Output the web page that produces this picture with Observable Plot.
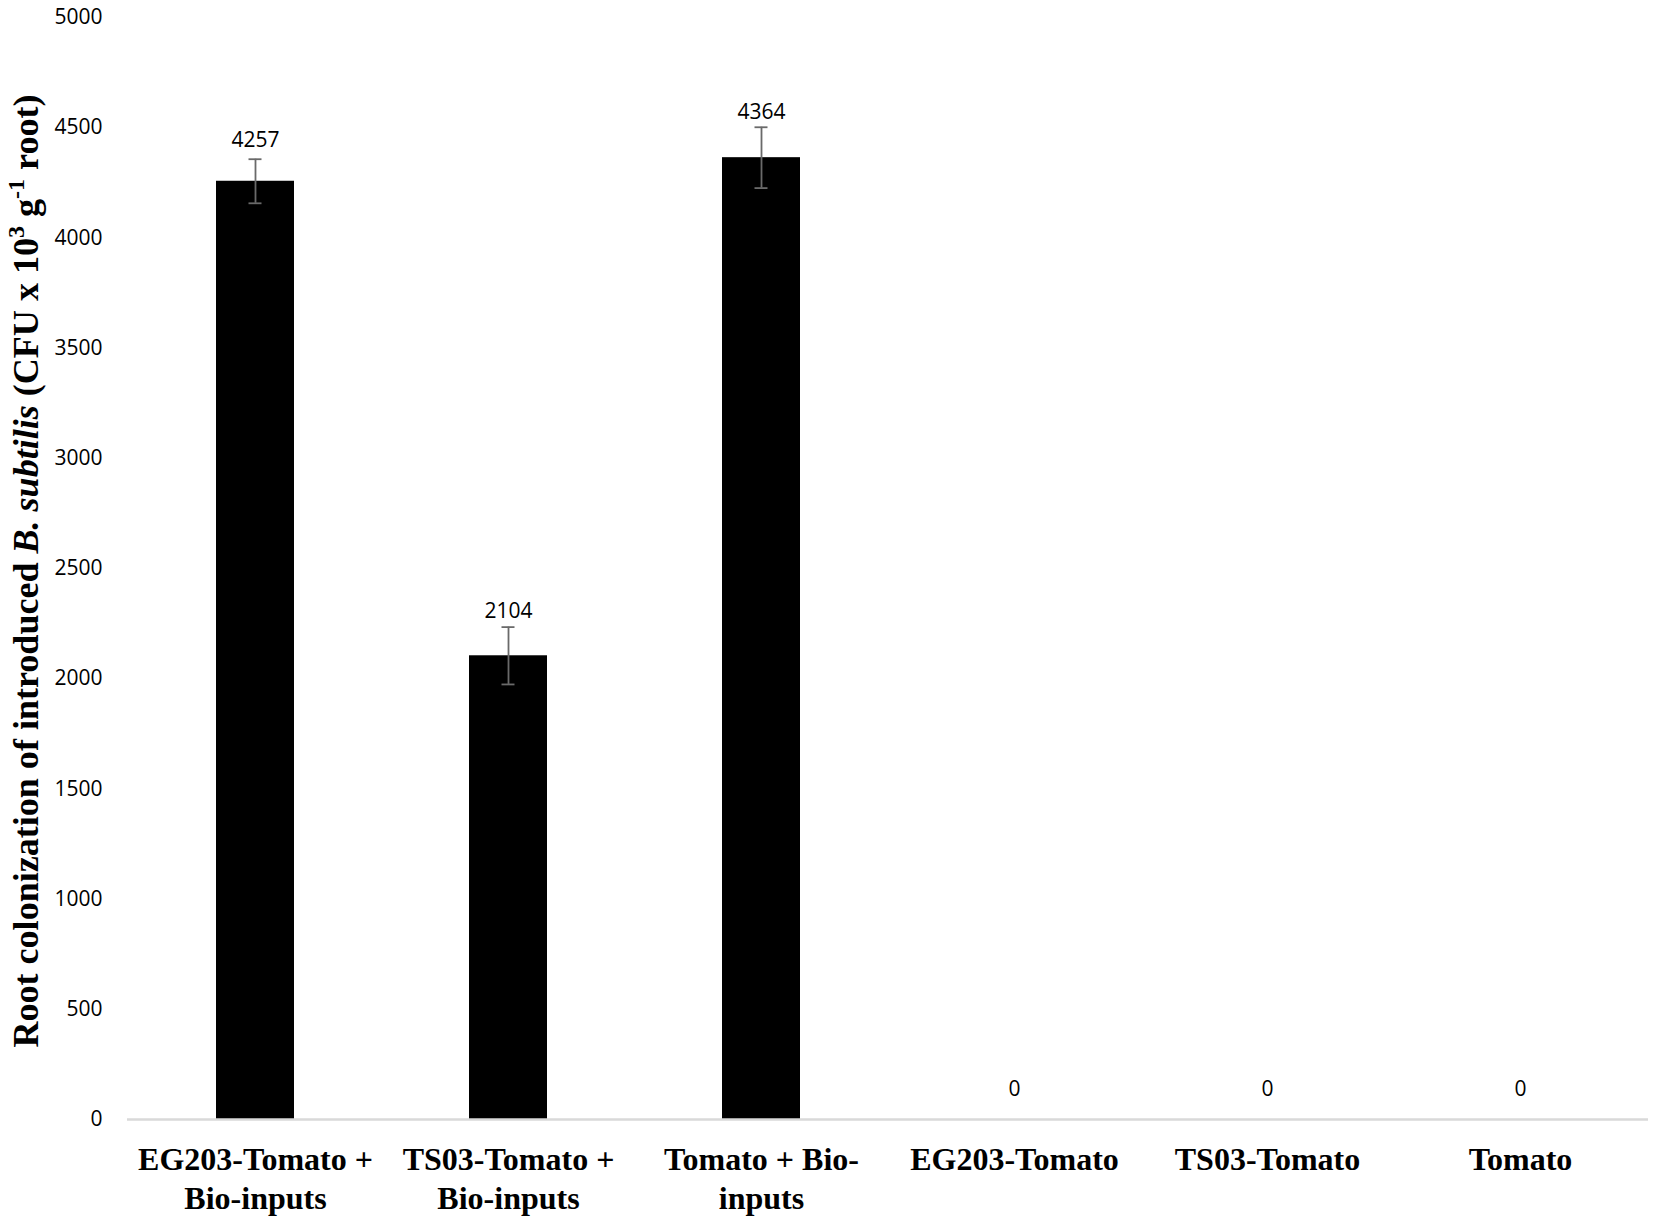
<!DOCTYPE html>
<html>
<head>
<meta charset="utf-8">
<script src="https://cdn.jsdelivr.net/npm/d3@7"></script>
<script src="https://cdn.jsdelivr.net/npm/@observablehq/plot@0.6"></script>
<style>
  body { margin: 0; background: #fff; }
  #chart svg { display: block; }
</style>
</head>
<body>
<div id="chart"></div>
<script>
// ---- data ----
const categories = ["EG203-Tomato + Bio-inputs", "TS03-Tomato + Bio-inputs", "Tomato + Bio-inputs", "EG203-Tomato", "TS03-Tomato", "Tomato"];
const categoryLabels = ["EG203-Tomato +\nBio-inputs", "TS03-Tomato +\nBio-inputs", "Tomato + Bio-\ninputs", "EG203-Tomato", "TS03-Tomato", "Tomato"];
const values = [4257, 2104, 4364, 0, 0, 0];
const errors = [100, 130, 138, 0, 0, 0];
const yTicks = [0, 500, 1000, 1500, 2000, 2500, 3000, 3500, 4000, 4500, 5000];
const yLabelParts = [
  {text: "Root colonization of introduced "},
  {text: "B. subtilis", italic: true},
  {text: " (CFU x 10"},
  {text: "3", sup: true},
  {text: " g"},
  {text: "-1", sup: true},
  {text: " root)"}
];

const data = categories.map((c, i) => ({cat: c, label: categoryLabels[i], value: values[i], err: errors[i]}));
const withErr = data.filter(d => d.err > 0);

const tickFont = "'Open Sans', 'Noto Sans', sans-serif";
const serif = "'Liberation Serif', 'DejaVu Serif', serif";

const chart = Plot.plot({
  width: 1654,
  height: 1220,
  marginLeft: 127,
  marginRight: 6,
  marginTop: 17,
  marginBottom: 101,
  style: {fontFamily: tickFont, fontSize: "21px", color: "#000", background: "#fff"},
  x: {domain: categories, paddingInner: 0.69, paddingOuter: 0.345, axis: null},
  y: {domain: [0, 5000], axis: null},
  marks: [
    Plot.axisY({ticks: yTicks, tickSize: 0, tickPadding: 25, label: null, fontSize: 21, fontFamily: tickFont, tickFormat: d => String(d)}),
    Plot.barY(data, {x: "cat", y: "value", fill: "#000"}),
    Plot.ruleY([0], {stroke: "#d9d9d9", strokeWidth: 2.5}),
    Plot.ruleX(withErr, {x: "cat", y1: d => d.value - d.err, y2: d => d.value + d.err, stroke: "#6a6a6a", strokeWidth: 1.8}),
    Plot.tickY(withErr, {x: "cat", y: d => d.value + d.err, stroke: "#6a6a6a", strokeWidth: 1.8, insetLeft: 32.5, insetRight: 32.5}),
    Plot.tickY(withErr, {x: "cat", y: d => d.value - d.err, stroke: "#6a6a6a", strokeWidth: 1.8, insetLeft: 32.5, insetRight: 32.5}),
    Plot.text(data, {x: "cat", y: d => d.value + d.err / 2, text: d => String(d.value), dy: -30, fontSize: 21, fontFamily: tickFont, fill: "#000"}),
    Plot.text(data, {x: "cat", y: 0, text: "label", dy: 23, lineAnchor: "top", lineHeight: 1.22, fontSize: 32, fontWeight: "bold", fontFamily: serif, fill: "#000"})
  ]
});

document.getElementById("chart").appendChild(chart);

// rotated y-axis title with italic part and superscripts
const NS = "http://www.w3.org/2000/svg";
const yScale = chart.scale("y");
const yMid = (yScale.apply(0) + yScale.apply(5000)) / 2;
const title = document.createElementNS(NS, "text");
title.setAttribute("transform", `translate(38,${yMid + 3}) rotate(-90)`);
title.setAttribute("text-anchor", "middle");
title.setAttribute("font-family", serif);
title.setAttribute("font-weight", "bold");
title.setAttribute("font-size", "36");
title.setAttribute("fill", "#000");
let shifted = false;
for (const p of yLabelParts) {
  const ts = document.createElementNS(NS, "tspan");
  ts.textContent = p.text;
  if (p.italic) ts.setAttribute("font-style", "italic");
  if (p.sup) {
    ts.setAttribute("font-size", "24");
    ts.setAttribute("dy", "-14");
    shifted = true;
  } else if (shifted) {
    ts.setAttribute("dy", "14");
    shifted = false;
  }
  title.appendChild(ts);
}
chart.appendChild(title);
title.setAttribute("textLength", "953");
title.setAttribute("lengthAdjust", "spacingAndGlyphs");
</script>
</body>
</html>
